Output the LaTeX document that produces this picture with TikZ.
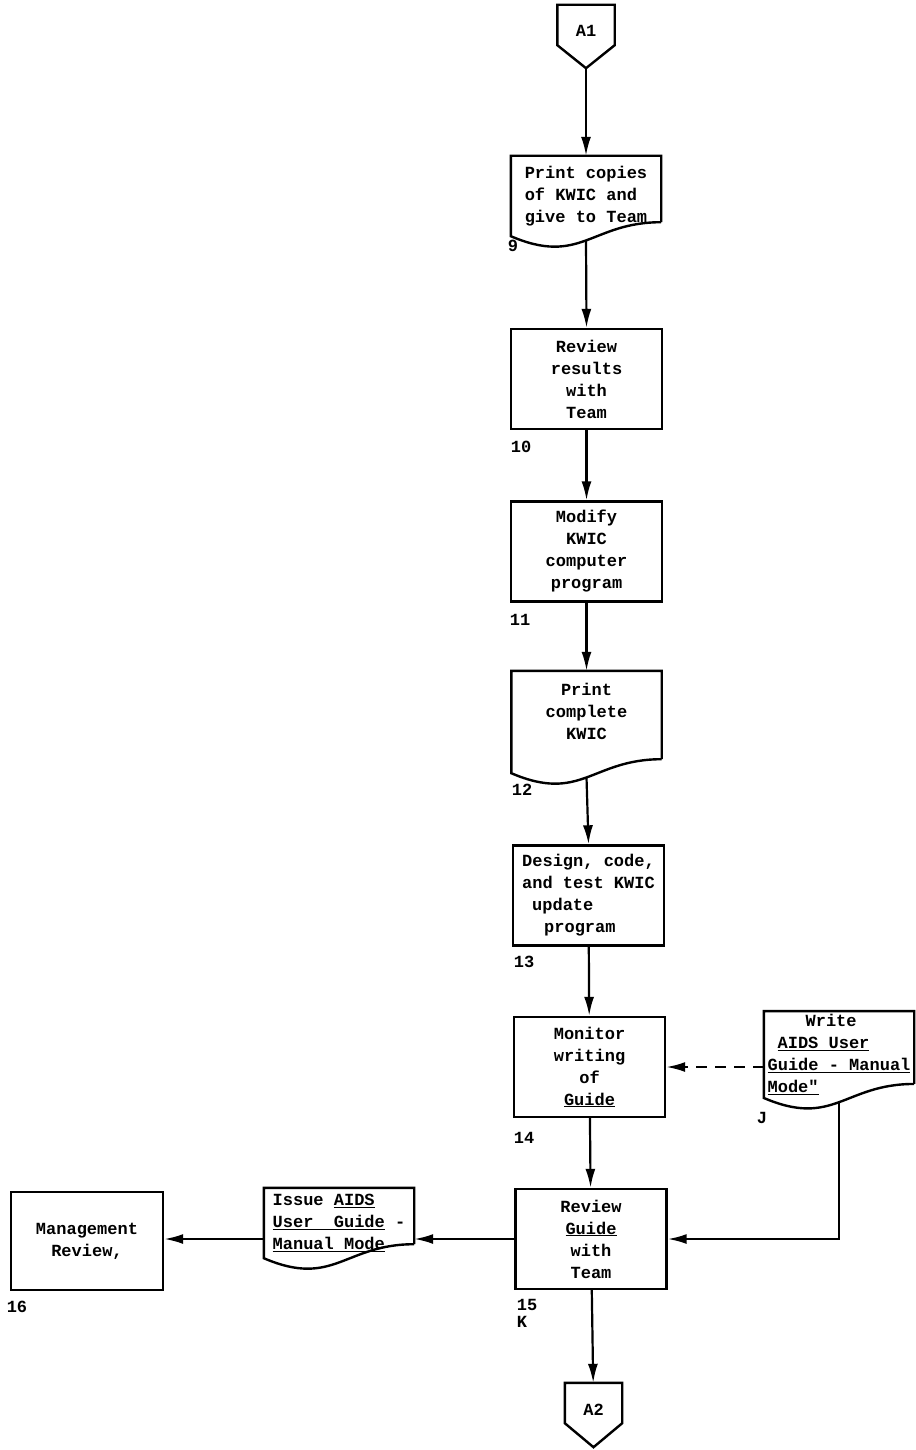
\documentclass[tikz,border=0pt]{standalone}
\usepackage{fontspec}
\setmonofont{Liberation Mono}
\usetikzlibrary{positioning,arrows.meta}

\newcommand{\docedge}[1]{%
  \draw[boxline] ([yshift=14pt]#1.south east) -- (#1.north east) -- (#1.north west) -- (#1.south west)
    .. controls ([xshift=70pt,yshift=-30pt]#1.south west) and ([xshift=-70pt,yshift=14pt]#1.south east)
    .. ([yshift=14pt]#1.south east);}
\newcommand{\offpage}[2]{%
  \coordinate (#1tip) at ([yshift=-#2]#1.south);
  \draw[boxline] (#1.north west) -- (#1.north east) -- (#1.south east) -- (#1tip) -- (#1.south west) -- cycle;}

\begin{document}
\begin{tikzpicture}[
    x=1pt, y=-1pt,
    font=\ttfamily\bfseries\fontsize{17}{22}\selectfont,
    >={Latex[length=19pt,width=10pt]},
    boxline/.style={line width=2.4pt, line join=miter},
    box/.style={
        draw,
        boxline,
        align=center,
        minimum width=151pt,
        minimum height=100pt,
        inner sep=3pt
    },
    doc/.style={align=center, minimum width=150pt, inner sep=3pt},
    conn/.style={minimum width=57pt, minimum height=40pt, inner sep=0pt, text height=24pt, text depth=0pt},
    num/.style={font=\ttfamily\bfseries\fontsize{17}{20}\selectfont, inner sep=0pt},
    arrow/.style={->, line width=2.2pt},
    dasharrow/.style={arrow, dash pattern=on 11pt off 8pt}
]
\useasboundingbox (0,0) rectangle (915,1450);

\node[conn] (a1) at (586,25) {A1};
\offpage{a1}{23pt}
\node[doc, align=left, minimum height=80pt] (p9) at (586,196) {Print copies\\of KWIC and\\give to Team};
\docedge{p9}
\node[box] (p10) at (586.5,379) {Review\\results\\with\\Team};
\node[box] (p11) at (586.5,551.5) {Modify\\KWIC\\computer\\program};
\node[doc, minimum height=102pt] (p12) at (586.5,722) {Print\\complete\\KWIC\\\mbox{}};
\docedge{p12}
\node[box, align=left] (p13) at (588.5,895.5) {Design, code,\\and test KWIC\\\hspace*{10pt}update\\\hspace*{22pt}program};
\node[box] (p14) at (589.5,1067) {Monitor\\writing\\of\\\underline{Guide}};
\node[doc, align=left, minimum height=77pt] (pJ) at (839,1054.5) {\hspace*{38pt}Write\\\hspace*{10pt}\underline{AIDS User}\\\underline{Guide - Manual}\\\underline{Mode"}};
\docedge{pJ}
\node[box] (p15) at (591,1239) {Review\\\underline{Guide}\\with\\Team};
\node[doc, align=left, minimum height=70pt] (pIssue) at (339,1223) {Issue \underline{AIDS}\\\underline{User~~Guide} -\\\underline{Manual Mode}};
\docedge{pIssue}
\node[box, minimum width=152pt, minimum height=98pt] (p16) at (87,1241) {Management\\Review,};
\node[conn] (a2) at (593.5,1403) {A2};
\offpage{a2}{24pt}

\node[num] (n9) at (513,246) {9};
\node[num] (n10) at (521,447) {10};
\node[num] (n11) at (520,620) {11};
\node[num] (n12) at (522,790) {12};
\node[num] (n13) at (524,962) {13};
\node[num] (n14) at (524,1138) {14};
\node[num] (nJ) at (762,1118) {J};
\node[num] (n15) at (527,1305) {15};
\node[num] (nK) at (522,1322) {K};
\node[num] (n16) at (17,1307) {16};

\draw[arrow] (a1tip) -- (p9.north);
\draw[arrow] ([yshift=-4pt]p9.south) -- (p10.north);
\draw[arrow] (p10) -- (p11);
\draw[arrow] (p11) -- (p12);
\draw[arrow] ([yshift=-4pt]p12.south) -- (p13.north);
\draw[arrow] (p13) -- (p14);
\draw[dasharrow] (pJ.west |- p14.east) -- (p14.east);
\draw[arrow] (p14) -- (p15);
\draw[arrow] ([yshift=-4pt]pJ.south) |- (p15.east);
\draw[arrow] (p15.west) -- (p15.west -| pIssue.east);
\draw[arrow] (p15.west -| pIssue.west) -- (p15.west -| p16.east);
\draw[arrow] (p15) -- (a2);
\end{tikzpicture}
\end{document}
